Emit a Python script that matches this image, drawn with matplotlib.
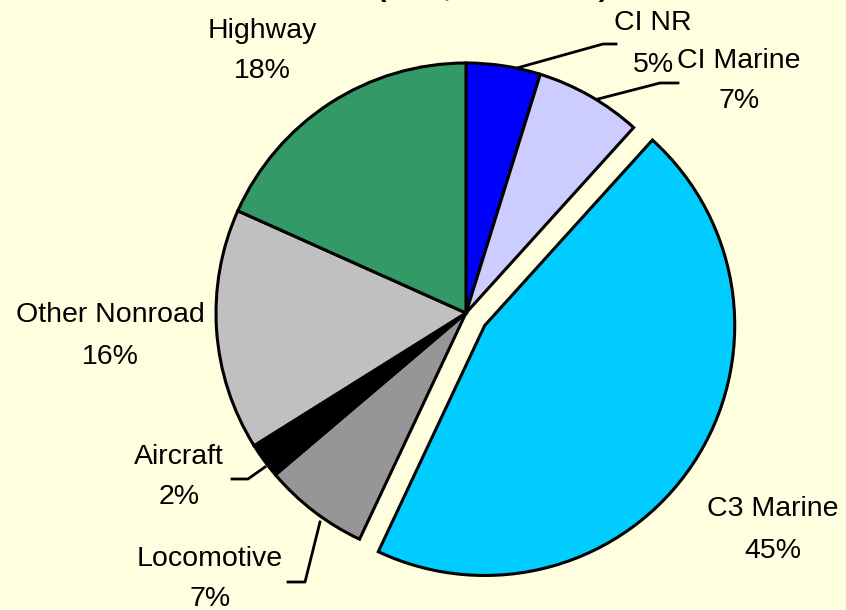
import matplotlib
matplotlib.use("Agg")
import matplotlib.pyplot as plt

# slice data, clockwise from 12 o'clock
categories = ["CI NR", "CI Marine", "C3 Marine", "Locomotive", "Aircraft",
              "Other Nonroad", "Highway"]
shares = [4.8, 6.9, 45.3, 6.8, 2.3, 15.6, 18.3]
colors = ["#0000FF", "#CCCCFF", "#00CCFF", "#969696", "#000000",
          "#C0C0C0", "#339966"]
explode = [0, 0, 0.09, 0, 0, 0, 0]

BG = "#FFFFE0"
W, H = 846, 610
CX, CY, R = 466, 313, 250

plt.rcParams["font.family"] = ["Liberation Sans", "DejaVu Sans"]

fig = plt.figure(figsize=(W / 100, H / 100), dpi=100, facecolor=BG)
ax = fig.add_axes([(CX - R) / W, (H - CY - R) / H, 2 * R / W, 2 * R / H])
ax.set_facecolor(BG)

wedges, _ = ax.pie(shares, colors=colors, explode=explode, startangle=90,
                   counterclock=False, radius=1,
                   wedgeprops=dict(edgecolor="black", linewidth=2.2))
for w in wedges:
    w.set_clip_on(False)
ax.set_xlim(-1, 1)
ax.set_ylim(-1, 1)
ax.set_aspect("equal")
ax.axis("off")

total = sum(shares)
pct = [f"{round(v / total * 100):d}%" for v in shares]

# label centres (pixels from top-left)
label_pos = {
    "CI NR": (653, 44),
    "CI Marine": (739, 81),
    "C3 Marine": (773, 530),
    "Locomotive": (210, 579),
    "Aircraft": (179, 477),
    "Other Nonroad": (110, 336),
    "Highway": (262, 51),
}


def px(x, y):
    return x / W, 1 - y / H


for name, p in zip(categories, pct):
    x, y = label_pos[name]
    fig.text(*px(x, y), f"{name}\n{p}", ha="center", va="center",
             fontsize=20.5, linespacing=1.75, color="black")

# leader lines
leaders = [
    [(517, 68), (603, 44), (616, 44)],
    [(598, 99), (660, 83), (678, 83)],
    [(265, 467), (248, 479), (232, 479)],
    [(320, 522), (305, 582), (288, 582)],
]
for pts in leaders:
    xs = [px(*q)[0] for q in pts]
    ys = [px(*q)[1] for q in pts]
    fig.add_artist(plt.Line2D(xs, ys, color="black", linewidth=2))

# title sits mostly above the visible area
fig.text(377 / W, 1 + 4.5 / H, "(SO2, 2020 Base)", ha="left", va="baseline",
         fontsize=20.5, fontweight="bold")

fig.savefig("out.png", dpi=100, facecolor=BG)
